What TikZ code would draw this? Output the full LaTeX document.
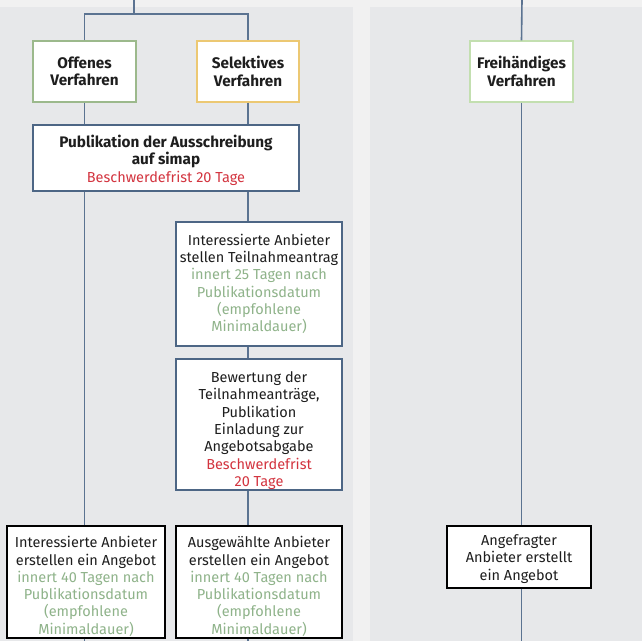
\documentclass[tikz,border=0pt]{standalone}
\usepackage{fontspec}
\setmainfont{Fira Sans}
\definecolor{bgout}{HTML}{F1F1F1}
\definecolor{panel}{HTML}{E7E8EA}
\definecolor{connc}{HTML}{5B7391}
\definecolor{grn}{HTML}{8FB38A}
\definecolor{rd}{HTML}{D3343F}
\definecolor{bgreen}{HTML}{9CB98C}
\definecolor{byellow}{HTML}{ECC873}
\definecolor{bblue}{HTML}{4D6685}
\definecolor{blgreen}{HTML}{C3DFB0}
\definecolor{txt}{HTML}{1E1E1E}
\newcommand{\G}[1]{\textcolor{grn}{#1}}
\newcommand{\R}[1]{\textcolor{rd}{#1}}
\newcommand{\B}[1]{{\fontsize{15.3}{17.3}\selectfont\bfseries #1}}
\newcommand{\lift}[1]{\rule{0pt}{#1pt}}
\begin{document}
\begin{tikzpicture}[x=1pt,y=-1pt,
  box/.style={draw, fill=white, line width=1.2pt, align=center, inner sep=0pt,
    text=txt, font=\fontsize{14.5}{17.3}\selectfont},
  head/.style={box, font=\fontsize{15.3}{17.3}\selectfont\bfseries},
  conn/.style={draw=connc, line width=1.6pt}]
\useasboundingbox (0,0) rectangle (642,641);
\fill[bgout] (0,0) rectangle (642,641);
\fill[panel] (0,7) rectangle (353,641);
\fill[panel] (370,7) rectangle (642,641);

\coordinate (top) at (134,0);
\coordinate (split) at (134,14);
\coordinate (rtop) at (522,0);
\coordinate (bot) at (0,641);

\node[head, draw=bgreen, minimum width=103pt, minimum height=61pt] (off) at (84.5,71.5) {Offenes\\Verfahren};
\node[head, draw=byellow, minimum width=102pt, minimum height=61pt] (sel) at (248,71.5) {Selektives\\Verfahren};
\node[box, draw=bblue, minimum width=266pt, minimum height=66pt] (pub) at (166,158)
  {\lift{17}\B{Publikation der Ausschreibung}\\\B{auf simap}\\\R{Beschwerdefrist 20 Tage}};
\node[box, draw=bblue, minimum width=166pt, minimum height=124pt] (teil) at (259,284)
  {Interessierte Anbieter\\stellen Teilnahmeantrag\\\G{innert 25 Tagen nach}\\\G{Publikationsdatum}\\\G{(empfohlene}\\\G{Minimaldauer)}};
\node[box, draw=bblue, minimum width=166pt, minimum height=131pt] (bew) at (259,424.5)
  {\lift{23}Bewertung der\\Teilnahmeanträge,\\Publikation\\Einladung zur\\Angebotsabgabe\\\R{Beschwerdefrist}\\\R{20 Tage}};
\node[box, draw=black, minimum width=158pt, minimum height=112pt] (int) at (86,582)
  {\lift{20}Interessierte Anbieter\\erstellen ein Angebot\\\G{innert 40 Tagen nach}\\\G{Publikationsdatum}\\\G{(empfohlene}\\\G{Minimaldauer)}};
\node[box, draw=black, minimum width=166pt, minimum height=112pt] (aus) at (259,582)
  {\lift{20}Ausgewählte Anbieter\\erstellen ein Angebot\\\G{innert 40 Tagen nach}\\\G{Publikationsdatum}\\\G{(empfohlene}\\\G{Minimaldauer)}};
\node[head, draw=blgreen, minimum width=103pt, minimum height=61pt] (frei) at (521.5,71.5) {Freihändiges\\Verfahren};
\node[box, draw=black, minimum width=144pt, minimum height=62pt] (ang) at (519,557)
  {\lift{15}Angefragter\\Anbieter erstellt\\ein Angebot};

\draw[conn] (top) -- (split);
\draw[conn] (off.north) |- (split) -| (sel.north);
\draw[conn] (off.south) -- (off.south |- pub.north);
\draw[conn] (sel.south) -- (sel.south |- pub.north);
\draw[conn] (pub.south -| off.south) -- (int.north -| off.south);
\draw[conn] (pub.south -| sel.south) -- (teil.north -| sel.south);
\draw[conn] (teil.south -| sel.south) -- (bew.north -| sel.south);
\draw[conn] (bew.south -| sel.south) -- (aus.north -| sel.south);
\draw[conn] (int.south -| off.south) -- (off.south |- bot);
\draw[conn] (aus.south -| sel.south) -- (sel.south |- bot);
\draw[conn] (rtop) -- (frei.north);
\draw[conn] (frei.south) -- (ang.north -| frei.south);
\draw[conn] (ang.south -| frei.south) -- (frei.south |- bot);
\end{tikzpicture}
\end{document}
